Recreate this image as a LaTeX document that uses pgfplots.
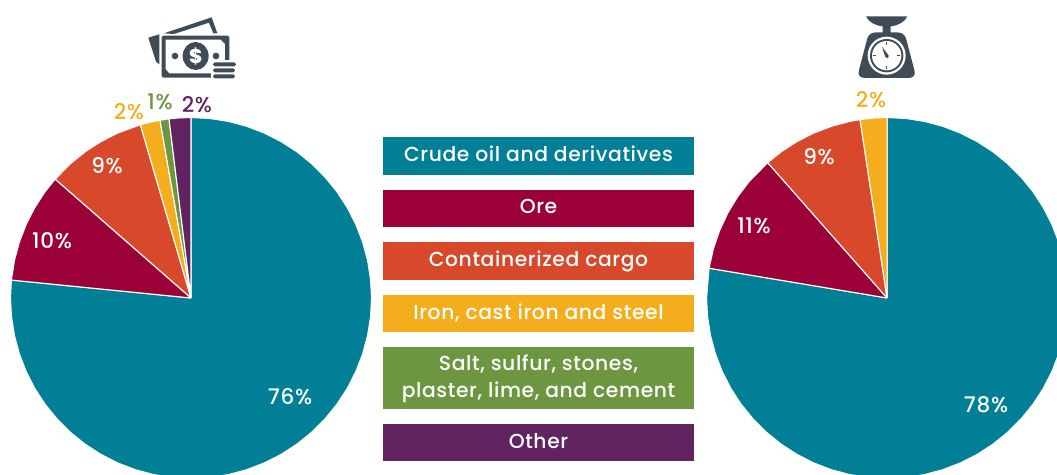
\documentclass[border=0pt]{standalone}
\usepackage{pgfplots}
\pgfplotsset{compat=1.18}
\usepackage{fontspec}
\setmainfont{Poppins Medium}[LetterSpace=3]
\definecolor{cteal}{HTML}{007F97}
\definecolor{core}{HTML}{9B0039}
\definecolor{corange}{HTML}{D7492A}
\definecolor{cyellow}{HTML}{F4AE1D}
\definecolor{cgreen}{HTML}{6C963F}
\definecolor{cpurple}{HTML}{622460}
\definecolor{cicon}{HTML}{3F4B57}
\newcommand{\legbox}[3]{\fill[#1] (383,474-#2) rectangle (694,474-#3);}
\newcommand{\legtxt}[2]{\node[text=white,anchor=base,font=\fontsize{20.3}{27}\selectfont] at (538.5,474-#1) {#2};}
\newcommand{\plab}[4]{\node[text=#1,anchor=base,font=\fontsize{21.5}{25}\selectfont] at (#2,474-#3) {#4};}
\pgfplotsset{pie/.style={hide axis,scale only axis,width=1057pt,height=474pt,at={(0,0)},anchor=south west,ymin=-176,ymax=298},
 wedge/.style={data cs=polar,line width=1.1pt,draw=white,line join=round,fill=#1,mark=none,forget plot}}
\begin{document}
\begin{tikzpicture}[x=1pt,y=1pt]
\useasboundingbox (0,0) rectangle (1057,474);
\begin{axis}[pie,xmin=-191,xmax=866]
\addplot[wedge=cteal] coordinates {(0,0) (90,180.5) (84,180.5) (78,180.5) (72,180.5) (66,180.5) (60,180.5) (54,180.5) (48,180.5) (42,180.5) (36,180.5) (30,180.5) (24,180.5) (18,180.5) (12,180.5) (6,180.5) (0,180.5) (-6,180.5) (-12,180.5) (-18,180.5) (-24,180.5) (-30,180.5) (-36,180.5) (-42,180.5) (-48,180.5) (-54,180.5) (-60,180.5) (-66,180.5) (-72,180.5) (-78,180.5) (-84,180.5) (-90,180.5) (-96,180.5) (-102,180.5) (-108,180.5) (-114,180.5) (-120,180.5) (-126,180.5) (-132,180.5) (-138,180.5) (-144,180.5) (-150,180.5) (-156,180.5) (-162,180.5) (-168,180.5) (-174,180.5) (-180,180.5) (-185.7,180.5) (0,0)};
\addplot[wedge=core] coordinates {(0,0) (174.3,180.5) (168,180.5) (162,180.5) (156,180.5) (150,180.5) (144,180.5) (138.8,180.5) (0,0)};
\addplot[wedge=corange] coordinates {(0,0) (138.8,180.5) (132,180.5) (126,180.5) (120,180.5) (114,180.5) (106.3,180.5) (0,0)};
\addplot[wedge=cyellow] coordinates {(0,0) (106.3,180.5) (103,180.5) (99.9,180.5) (0,0)};
\addplot[wedge=cgreen] coordinates {(0,0) (99.9,180.5) (97,180.5) (0,0)};
\addplot[wedge=cpurple] coordinates {(0,0) (97,180.5) (93.5,180.5) (90,180.5) (0,0)};
\end{axis}
\begin{axis}[pie,xmin=-887,xmax=170]
\addplot[wedge=cteal] coordinates {(0,0) (90,180.5) (84,180.5) (78,180.5) (72,180.5) (66,180.5) (60,180.5) (54,180.5) (48,180.5) (42,180.5) (36,180.5) (30,180.5) (24,180.5) (18,180.5) (12,180.5) (6,180.5) (0,180.5) (-6,180.5) (-12,180.5) (-18,180.5) (-24,180.5) (-30,180.5) (-36,180.5) (-42,180.5) (-48,180.5) (-54,180.5) (-60,180.5) (-66,180.5) (-72,180.5) (-78,180.5) (-84,180.5) (-90,180.5) (-96,180.5) (-102,180.5) (-108,180.5) (-114,180.5) (-120,180.5) (-126,180.5) (-132,180.5) (-138,180.5) (-144,180.5) (-150,180.5) (-156,180.5) (-162,180.5) (-168,180.5) (-174,180.5) (-180,180.5) (-189.5,180.5) (0,0)};
\addplot[wedge=core] coordinates {(0,0) (170.5,180.5) (164,180.5) (158,180.5) (152,180.5) (146,180.5) (140,180.5) (131.4,180.5) (0,0)};
\addplot[wedge=corange] coordinates {(0,0) (131.4,180.5) (126,180.5) (120,180.5) (114,180.5) (108,180.5) (102,180.5) (98.6,180.5) (0,0)};
\addplot[wedge=cyellow] coordinates {(0,0) (98.6,180.5) (94,180.5) (90,180.5) (0,0)};
\end{axis}
% legend
\legbox{cteal}{137}{175}
\legbox{core}{190}{227}
\legbox{corange}{242}{280}
\legbox{cyellow}{295}{332}
\legbox{cgreen}{347}{409}
\legbox{cpurple}{424}{461}
\legtxt{162}{Crude oil and derivatives}
\legtxt{213.5}{Ore}
\legtxt{266.5}{Containerized cargo}
\legtxt{319.5}{Iron, cast iron and steel}
\legtxt{371}{Salt, sulfur, stones,}
\legtxt{397.5}{plaster, lime, and cement}
\legtxt{448}{Other}
% slice labels
\plab{white}{290}{404.5}{76\%}
\plab{white}{52}{248.5}{10\%}
\plab{white}{107}{173.5}{9\%}
\plab{cyellow}{129}{119.5}{2\%}
\plab{cgreen}{160}{109.5}{1\%}
\plab{cpurple}{197}{112.5}{2\%}
\plab{white}{986}{412.5}{78\%}
\plab{white}{754}{233.5}{11\%}
\plab{white}{819}{164.5}{9\%}
\plab{cyellow}{871}{107.5}{2\%}
% money icon
\begin{scope}[shift={(100,469)},x=0.3333pt,y=-0.3333pt]
\fill[cicon] (145,98) -- (178,88) -- (178,178) -- (168,170) -- cycle;
\fill[cicon] (192,85) -- (335,37) -- (352,85) -- (340,85) -- (327,53) -- (222,87) -- cycle;
\fill[cicon,rounded corners=1.5pt] (185,92) rectangle (388,218);
\fill[white] (197,104) -- (362,104) -- (375,117) -- (375,192) -- (362,205) -- (208,205) -- (197,192) -- cycle;
\fill[cicon] (287,153) ellipse [x radius=39,y radius=42];
\fill[cicon] (225,153) circle [radius=10];
\fill[cicon] (348,153) circle [radius=10];
\node[text=white,font=\fontsize{20}{20}\selectfont\bfseries] at (287,153) {\$};
\fill[white] (332,166) rectangle (412,224);
\fill[cicon,rounded corners=1.8pt] (339,172) rectangle (408,184);
\fill[cicon,rounded corners=1.8pt] (339,190) rectangle (405,202);
\fill[cicon,rounded corners=1.8pt] (339,208) rectangle (405,220);
\end{scope}
% scale icon
\begin{scope}[shift={(830,469)},x=0.3333pt,y=-0.3333pt]
\fill[cicon] (108,34) -- (232,34) .. controls (225,50) and (205,62) .. (182,64) -- (182,84) -- (158,84) -- (158,64) .. controls (135,62) and (115,50) .. (108,34) -- cycle;
\fill[cicon] (140,82) -- (200,82) .. controls (215,82) and (224,88) .. (228,100) -- (253,195) .. controls (258,210) and (250,219) .. (235,219) -- (105,219) .. controls (90,219) and (82,210) .. (87,195) -- (112,100) .. controls (116,88) and (125,82) .. (140,82) -- cycle;
\fill[white] (170,152) circle [radius=57];
\fill[cicon] (170,152) circle [radius=50];
\fill[white] (170,152) circle [radius=44];
\fill[cicon] (168.5,112) rectangle (171.5,120);
\fill[cicon] (168.5,184) rectangle (171.5,192);
\fill[cicon] (130,150.5) rectangle (138,153.5);
\fill[cicon] (202,150.5) rectangle (210,153.5);
\fill[cicon] (156,125) -- (176,152) -- (174,160) -- (166,156) -- cycle;
\end{scope}
\end{tikzpicture}
\end{document}
